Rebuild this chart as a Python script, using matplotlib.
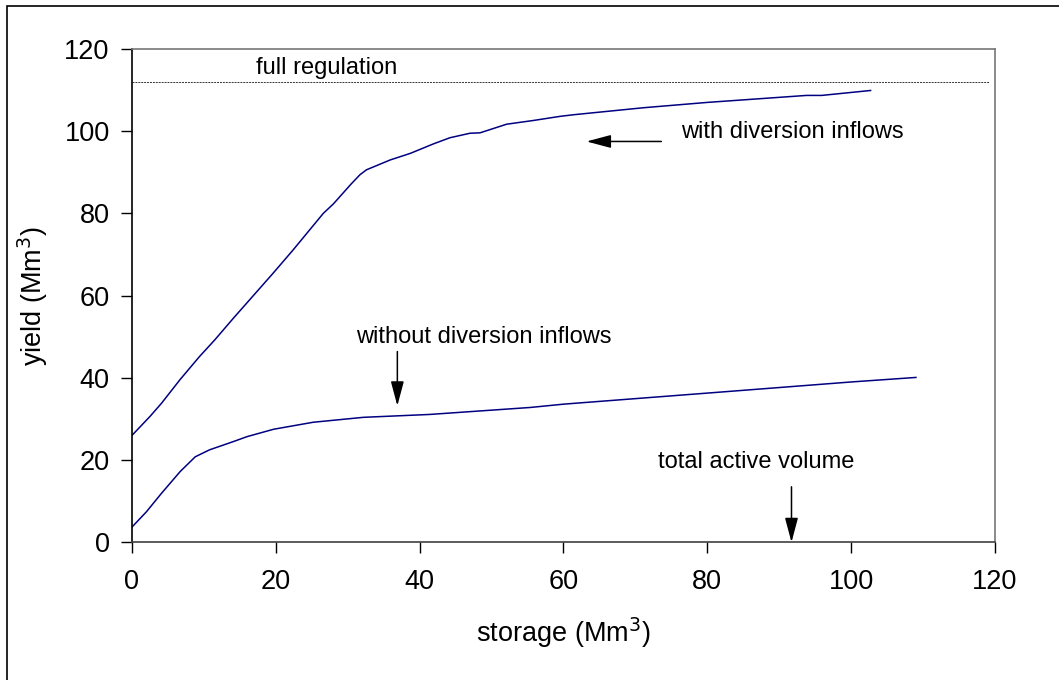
import numpy as np
import matplotlib.pyplot as plt
from matplotlib.patches import Rectangle

plt.rcParams['font.family'] = ['Liberation Sans', 'DejaVu Sans']

# yield curve with diversion inflows (storage, yield)
with_storage = [0, 2.5, 4.1, 6.7, 9.4, 11.5, 14.1, 19.6, 22.4, 26.6, 28.0, 30.5, 31.7,
                32.6, 35.9, 38.7, 41.9, 44.2, 47.0, 48.4, 52.1, 55.8, 59.5, 61.4,
                71.1, 80.0, 93.8, 95.9, 102.7]
with_yield = [26.0, 30.6, 33.8, 39.6, 45.2, 49.2, 54.5, 65.4, 71.1, 80.0, 82.3, 87.2, 89.4,
              90.6, 93.0, 94.6, 96.9, 98.4, 99.5, 99.6, 101.7, 102.6, 103.6, 104.0,
              105.7, 107.0, 108.7, 108.7, 109.9]

# yield curve without diversion inflows
without_storage = [0, 2.0, 4.1, 6.7, 8.8, 10.8, 14.1, 16.0, 19.7, 25.2, 32.2, 41.4,
                   55.4, 60.0, 80.8, 100.0, 109.0]
without_yield = [3.7, 7.4, 11.9, 17.2, 20.8, 22.5, 24.5, 25.7, 27.5, 29.2, 30.4, 31.1,
                 32.8, 33.6, 36.4, 39.0, 40.1]

full_regulation = 112
total_active_volume = 91.7

fig = plt.figure(figsize=(10.59, 6.8), dpi=100)
ax = fig.add_axes([0.1246, 0.2025, 0.815, 0.7255])

ax.plot(with_storage, with_yield, color='#000080', lw=1.1)
ax.plot(without_storage, without_yield, color='#000080', lw=1.1)
ax.plot([0, 119.2], [full_regulation, full_regulation], color='#333333', lw=0.7,
        linestyle=(0, (2, 1)))

fs = 17
ax.text(17.2, 115.4, 'full regulation', fontsize=fs, va='center', ha='left')
ax.text(76.4, 99.7, 'with diversion inflows', fontsize=fs, va='center', ha='left')
ax.text(31.2, 50.0, 'without diversion inflows', fontsize=fs, va='center', ha='left')
ax.text(73.2, 19.5, 'total active volume', fontsize=fs, va='center', ha='left')

arrow = dict(arrowstyle='-|>,head_length=1.5,head_width=0.4', color='black', lw=1.1,
             shrinkA=0, shrinkB=0)
ax.annotate('', xy=(63.2, 97.5), xytext=(73.6, 97.5), arrowprops=arrow)
ax.annotate('', xy=(36.9, 33.2), xytext=(36.9, 46.4), arrowprops=arrow)
ax.annotate('', xy=(total_active_volume, 0), xytext=(total_active_volume, 13.5),
            arrowprops=arrow)

ax.set_xlim(0, 120)
ax.set_ylim(0, 120)
ax.set_xticks(np.arange(0, 121, 20))
ax.set_yticks(np.arange(0, 121, 20))
ax.tick_params(direction='out', length=8, width=1, labelsize=19.5)
ax.tick_params(axis='x', pad=11)
ax.tick_params(axis='y', pad=8)

ax.spines['left'].set_color('black')
ax.spines['bottom'].set_color('#404040')
ax.spines['top'].set_color('#777777')
ax.spines['right'].set_color('#777777')
for s in ax.spines.values():
    s.set_linewidth(1.2)

ax.set_xlabel('storage (Mm$^3$)', fontsize=19.5, labelpad=15)
ax.set_ylabel('yield (Mm$^3$)', fontsize=19.5, labelpad=10)

# outer frame, cut off at right and bottom
fig.add_artist(Rectangle((7 / 1059, -0.1), 1.2, 1.1 - 6 / 680,
                         transform=fig.transFigure, fill=False,
                         edgecolor='black', lw=1.2))

fig.savefig('out.png', dpi=100)
